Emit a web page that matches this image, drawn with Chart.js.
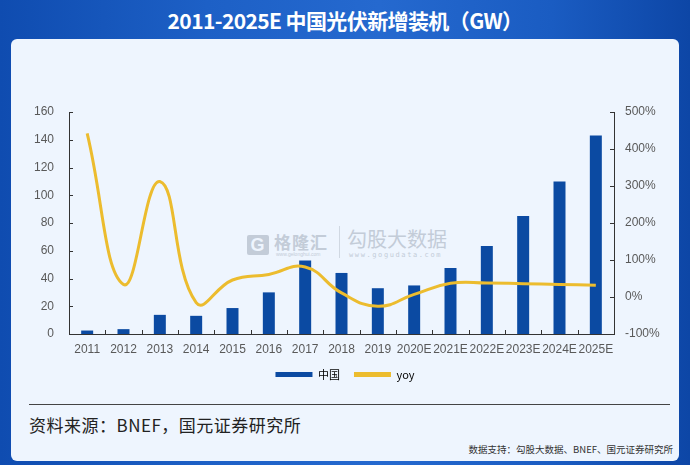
<!DOCTYPE html>
<html>
<head>
<meta charset="utf-8">
<script src="https://cdn.jsdelivr.net/npm/chart.js@4/dist/chart.umd.min.js"></script>
<style>
  html, body { margin:0; padding:0; }
  body { width:690px; height:465px; overflow:hidden; position:relative;
    background: linear-gradient(90deg, #0f4cb0 0%, #1d60c6 30%, #2569cf 55%, #1a5cc2 80%, #0d46a6 100%);
    font-family: "Noto Sans CJK SC", "Noto Sans", sans-serif; }
  #title { position:absolute; left:0; top:5px; width:690px; text-align:center; color:#fff;
    font-size:21px; font-weight:bold; letter-spacing:-0.6px; line-height:30px; }
  #card { position:absolute; left:11px; top:39px; width:668px; height:422px; background:#eef5fe; border-radius:6px; }
  #wm1 { position:absolute; left:247px; top:229px; color:#c3ccd8; font-size:17px; font-weight:bold; letter-spacing:1px; }
  #wmG { display:inline-block; width:22px; height:20px; background:#c3ccd8; color:#eef5fe; text-align:center; line-height:20px; font-family:"Liberation Sans"; font-size:18px; border-radius:2px; margin-right:5px; vertical-align:-2px; }
  #wm1s { position:absolute; left:276px; top:251px; color:#c3ccd8; font-size:5px; font-family:"Liberation Sans"; }
  #wmdiv { position:absolute; left:339px; top:226px; width:1px; height:32px; background:#d0d8e2; }
  #wm2 { position:absolute; left:347px; top:224px; color:#c3ccd8; font-size:20px; letter-spacing:0px; }
  #wm2s { position:absolute; left:349px; top:251px; color:#c3ccd8; font-size:7px; font-family:"DejaVu Sans Mono"; letter-spacing:1.6px; }
  #rule { position:absolute; left:29px; top:404px; width:641px; height:1px; background:#444; }
  #src { position:absolute; left:29px; top:412px; color:#222; font-size:17px; letter-spacing:0.5px; }
  #support { position:absolute; right:17px; top:442px; color:#333; font-size:9.5px; }
  #c { position:absolute; left:0; top:0; }
</style>
</head>
<body>
<div id="title">2011-2025E 中国光伏新增装机（GW）</div>
<div id="card"></div>
<div id="wm1"><span id="wmG">G</span>格隆汇</div>
<div id="wm1s">www.gelonghui.com</div>
<div id="wmdiv"></div>
<div id="wm2">勾股大数据</div>
<div id="wm2s">www.gogudata.com</div>
<div id="rule"></div>
<div id="src">资料来源：BNEF，国元证券研究所</div>
<div id="support">数据支持：勾股大数据、BNEF、国元证券研究所</div>
<canvas id="c" width="690" height="465"></canvas>
<script>
const categories = ['2011','2012','2013','2014','2015','2016','2017','2018','2019','2020E','2021E','2022E','2023E','2024E','2025E'];
const chinaGW = [2.5, 3.5, 13.8, 13.1, 18.7, 30, 53, 44, 33, 35, 47.5, 63.5, 85, 110, 143];
const yoyPct = [442, 34, 312, -15, 46, 61, 81, 11, -25, 7, 37, 38, 36, 34, 32];
const leftTicks = [0, 20, 40, 60, 80, 100, 120, 140, 160];
const rightTicks = [-100, 0, 100, 200, 300, 400, 500];

const BAR = '#0b4aa2';
const LINE = '#ecbc2e';
const AXIS = '#333333';
const TXT = '#595959';

const innerTicks = {
  id: 'innerTicks',
  afterDatasetsDraw(chart) {
    const ctx = chart.ctx;
    const x = chart.scales.x, y = chart.scales.y, y1 = chart.scales.y1;
    ctx.save();
    ctx.strokeStyle = AXIS;
    ctx.lineWidth = 1;
    ctx.beginPath();
    leftTicks.forEach(v => { const p = Math.round(y.getPixelForValue(v)) + 0.5; ctx.moveTo(x.left, p); ctx.lineTo(x.left + 4, p); });
    rightTicks.forEach(v => { const p = Math.round(y1.getPixelForValue(v)) + 0.5; ctx.moveTo(x.right, p); ctx.lineTo(x.right - 4, p); });
    for (let i = 1; i < categories.length; i++) {
      const p = Math.round((x.getPixelForValue(i - 1) + x.getPixelForValue(i)) / 2) + 0.5;
      ctx.moveTo(p, y.bottom); ctx.lineTo(p, y.bottom - 4);
    }
    ctx.stroke();
    ctx.restore();
  }
};

new Chart(document.getElementById('c'), {
  data: {
    labels: categories,
    datasets: [
      { type: 'bar', label: '中国', data: chinaGW, backgroundColor: BAR, yAxisID: 'y', order: 2,
        barPercentage: 0.33, categoryPercentage: 1.0 },
      { type: 'line', label: 'yoy', data: yoyPct, borderColor: LINE, borderWidth: 3, yAxisID: 'y1', order: 1,
        tension: 0.45, pointRadius: 0, fill: false }
    ]
  },
  options: {
    responsive: false,
    animation: false,
    layout: { padding: { top: 112, bottom: 75, left: 0, right: 0 } },
    plugins: {
      tooltip: { enabled: false },
      legend: {
        position: 'bottom',
        labels: {
          boxWidth: 37, boxHeight: 5, padding: 14, color: TXT,
          font: { family: '"Noto Sans CJK SC", "Liberation Sans"', size: 11 },
          generateLabels: () => [
            { text: '中国', fillStyle: BAR, strokeStyle: BAR, lineWidth: 0, datasetIndex: 0 },
            { text: 'yoy', fillStyle: LINE, strokeStyle: LINE, lineWidth: 0, datasetIndex: 1 }
          ]
        }
      }
    },
    scales: {
      x: {
        offset: true,
        grid: { display: false, drawTicks: false },
        border: { display: true, color: AXIS, width: 1 },
        ticks: { color: TXT, font: { family: 'Liberation Sans', size: 12 }, padding: 8, autoSkip: false, maxRotation: 0 },
        afterFit: s => { s.height = 21; }
      },
      y: {
        position: 'left', min: 0, max: 160,
        afterBuildTicks: s => { s.ticks = leftTicks.map(v => ({ value: v })); },
        grid: { display: false, drawTicks: false },
        border: { display: true, color: AXIS, width: 1 },
        ticks: { color: TXT, font: { family: 'Liberation Sans', size: 12 }, padding: 15 },
        afterFit: s => { s.width = 69; }
      },
      y1: {
        position: 'right', min: -100, max: 500,
        afterBuildTicks: s => { s.ticks = rightTicks.map(v => ({ value: v })); },
        grid: { display: false, drawTicks: false },
        border: { display: true, color: AXIS, width: 1 },
        ticks: { color: TXT, font: { family: 'Liberation Sans', size: 12 }, padding: 11, callback: v => v + '%' },
        afterFit: s => { s.width = 76; }
      }
    }
  },
  plugins: [innerTicks]
});
</script>
</body>
</html>
